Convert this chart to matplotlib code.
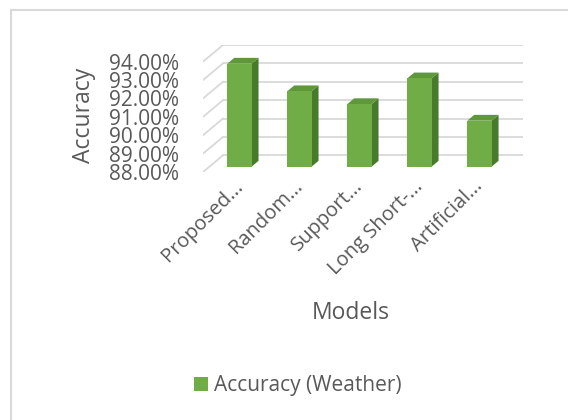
import matplotlib
matplotlib.use("Agg")
import matplotlib.pyplot as plt
from matplotlib.patches import Polygon
import numpy as np

models = ["Proposed...", "Random...", "Support...", "Long Short-...", "Artificial..."]
accuracy = [93.6, 92.1, 91.4, 92.8, 90.5]
yticks = [88, 89, 90, 91, 92, 93, 94]
series_name = "Accuracy (Weather)"

plt.rcParams["font.family"] = ["Open Sans", "DejaVu Sans"]
text_col = "#595959"
grid_col = "#d9d9d9"
front_col = "#70ad47"
side_col = "#477a2a"
top_col = "#5e983b"

W, H = 568, 420
fig = plt.figure(figsize=(W / 100, H / 100), dpi=100)

# chart area border (only top/left visible in the crop)
fig.add_artist(plt.Line2D([11 / W, 1], [1 - 10 / H, 1 - 10 / H], color=grid_col, lw=1.5))
fig.add_artist(plt.Line2D([11 / W, 11 / W], [0, 1 - 10 / H], color=grid_col, lw=1.5))

# fake 3d: depth offset in data units
DX, DY = 0.333, 0.907
t0, t1 = 0.32, 0.67
bw = 0.405

ax = fig.add_axes([203 / W, (H - 172) / H, 320 / W, 127 / H])
ax.set_xlim(-0.5, len(models) - 0.5 + DX)
ax.set_ylim(yticks[0], yticks[-1] + DY)
for s in ax.spines.values():
    s.set_visible(False)

n = len(models)
for yv in yticks:
    ax.plot([-0.5, -0.5 + DX], [yv, yv + DY], color=grid_col, lw=1.3, zorder=1)
    ax.plot([-0.5 + DX, n - 0.5 + DX], [yv + DY, yv + DY], color=grid_col, lw=1.3, zorder=1)

x = np.arange(n)
base = yticks[0]
vals = np.array(accuracy)
left = x - bw / 2 + t0 * DX
b0 = base + t0 * DY
bars = ax.bar(left, vals - base, width=bw, bottom=b0, align="edge",
              color=front_col, zorder=4, label=series_name)
dd = t1 - t0
for l, v in zip(left, vals):
    r = l + bw
    top = v + t0 * DY
    ax.add_patch(Polygon([(r, b0), (r + dd * DX, b0 + dd * DY), (r + dd * DX, top + dd * DY), (r, top)],
                         closed=True, facecolor=side_col, edgecolor="none", zorder=3))
    ax.add_patch(Polygon([(l, top), (r, top), (r + dd * DX, top + dd * DY), (l + dd * DX, top + dd * DY)],
                         closed=True, facecolor=top_col, edgecolor="none", zorder=3))

ax.set_yticks(yticks)
ax.set_yticklabels([f"{v:.2f}%" for v in yticks])
ax.tick_params(axis="y", length=0, pad=17, labelsize=15, labelcolor=text_col)
ax.set_xticks([])

for i, m in enumerate(models):
    ax.annotate(m, xy=(i, base), xytext=(10, -3), textcoords="offset points",
                rotation=45, ha="right", va="top", fontsize=14.5, color=text_col,
                annotation_clip=False)

fig.text(84 / W, 1 - 115 / H, "Accuracy", rotation=90, ha="center", va="center",
         fontsize=16.5, color=text_col)
fig.text(351 / W, 1 - 313 / H, "Models", ha="center", va="center",
         fontsize=16.5, color=text_col)

fig.legend(handles=[bars], labels=[series_name], loc="center",
           bbox_to_anchor=(298 / W, 1 - 386 / H), frameon=False, fontsize=15,
           labelcolor=text_col, handlelength=0.67, handleheight=0.67, handletextpad=0.3)

fig.savefig("out.png", dpi=100)
